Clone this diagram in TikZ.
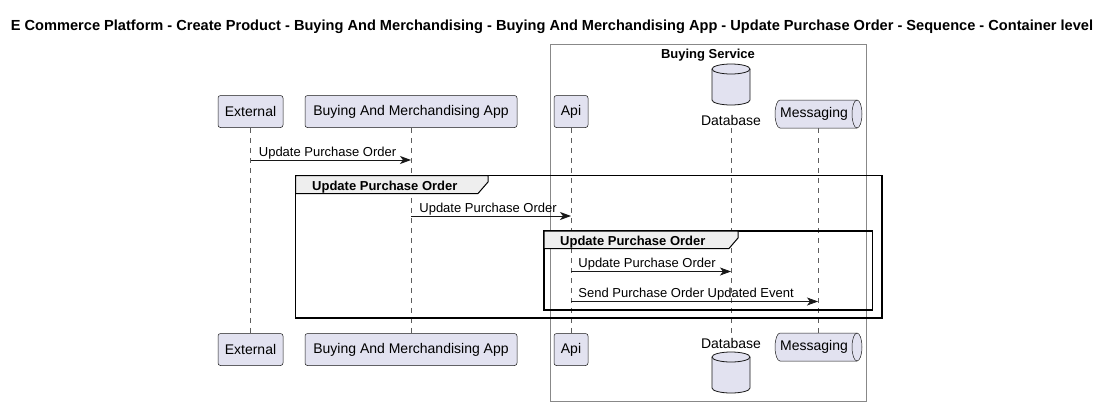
\documentclass[tikz,border=0pt]{standalone}
\usepackage{fontspec}
\setmainfont{Liberation Sans}
\usetikzlibrary{arrows.meta}
\definecolor{pfill}{HTML}{E2E2F0}
\definecolor{pline}{HTML}{181818}
\definecolor{gfill}{HTML}{EEEEEE}
\definecolor{boxline}{HTML}{888888}
\begin{document}
\begin{tikzpicture}[x=1pt,y=-1pt,
  part/.style={draw=pline, fill=pfill, rounded corners=2.5pt, line width=0.5pt,
    minimum height=32pt, inner xsep=0pt, inner ysep=0pt, font=\fontsize{14}{16}\selectfont},
  plabel/.style={inner sep=0pt, font=\fontsize{14}{16}\selectfont},
  life/.style={draw=pline!70, line width=0.5pt, dash pattern=on 5pt off 5pt},
  msgarrow/.style={draw=pline, line width=0.8pt, -{Stealth[length=11pt,width=8pt,inset=3pt]}},
  lbl/.style={inner sep=0pt, anchor=base west, font=\fontsize{13}{15}\selectfont},
  grp/.style={draw=black, line width=1.5pt},
  tab/.style={draw=black, line width=1pt, fill=gfill},
  glbl/.style={inner sep=0pt, anchor=base west, font=\fontsize{13}{15}\selectfont\bfseries},
  cyl/.style={draw=pline, fill=pfill, line width=0.8pt}
]
\useasboundingbox[fill=white] (0,0) rectangle (1112,413);

% title
\node[inner sep=0pt, anchor=base, font=\fontsize{14.6}{16}\selectfont\bfseries] (title) at (552,30)
  {E Commerce Platform - Create Product - Buying And Merchandising - Buying And Merchandising App - Update Purchase Order - Sequence - Container level};

% Buying Service box
\draw[draw=boxline, line width=0.8pt] (550.5,44) rectangle (866.5,401);
\node[inner sep=0pt, anchor=base, font=\fontsize{13}{15}\selectfont\bfseries] (bs) at (708,58) {Buying Service};

% participants top
\node[part, minimum width=65pt] (ext) at (250.5,111.5) {External};
\node[part, minimum width=212pt] (app) at (411,111.5) {Buying And Merchandising App};
\node[part, minimum width=34pt] (api) at (571,111.5) {Api};
% participants bottom
\node[part, minimum width=65pt] (extb) at (250.5,349.5) {External};
\node[part, minimum width=212pt] (appb) at (411,349.5) {Buying And Merchandising App};
\node[part, minimum width=34pt] (apib) at (571,349.5) {Api};

% Database top
\draw[cyl] (712,69) -- (712,100) arc[start angle=180,end angle=360,x radius=19pt,y radius=5pt]
  -- (750,69) arc[start angle=0,end angle=180,x radius=19pt,y radius=5pt] -- cycle;
\draw[draw=pline, line width=0.8pt] (712,69) arc[start angle=180,end angle=360,x radius=19pt,y radius=5pt];
\node[plabel] (db) at (731,120) {Database};
% Database bottom
\node[plabel] (dbb) at (731,343) {Database};
\draw[cyl] (712,357) -- (712,388) arc[start angle=180,end angle=360,x radius=19pt,y radius=5pt]
  -- (750,357) arc[start angle=0,end angle=180,x radius=19pt,y radius=5pt] -- cycle;
\draw[draw=pline, line width=0.8pt] (712,357) arc[start angle=180,end angle=360,x radius=19pt,y radius=5pt];

% Messaging top
\draw[cyl, line width=0.5pt] (780,100) -- (857,100) arc[start angle=90,end angle=-90,x radius=5pt,y radius=14pt]
  -- (780,128) arc[start angle=270,end angle=90,x radius=5pt,y radius=14pt] -- cycle;
\draw[draw=pline, line width=0.5pt] (857,100) arc[start angle=90,end angle=270,x radius=5pt,y radius=14pt];
\node[plabel] (msg) at (814,114) {Messaging};
\coordinate (msgt) at (818,128);
% Messaging bottom
\draw[cyl, line width=0.5pt] (780,333) -- (857,333) arc[start angle=90,end angle=-90,x radius=5pt,y radius=14pt]
  -- (780,361) arc[start angle=270,end angle=90,x radius=5pt,y radius=14pt] -- cycle;
\draw[draw=pline, line width=0.5pt] (857,333) arc[start angle=90,end angle=270,x radius=5pt,y radius=14pt];
\node[plabel] (msgb) at (814,347) {Messaging};
\coordinate (msgbt) at (818,333);

% lifelines
\draw[life] (ext.south) -- (extb.north);
\draw[life] (app.south) -- (appb.north);
\draw[life] (api.south) -- (apib.north);
\draw[life] (731,128) -- (731,335);
\draw[life] (msgt) -- (msgbt);

% message 1
\coordinate (y1) at (0,160);
\draw[msgarrow] (ext |- y1) -- (app |- y1)
  node[lbl, pos=0, xshift=8pt, yshift=4pt] {Update Purchase Order};

% outer group
\draw[grp] (295.5,175.5) rectangle (882,318);
\draw[tab] (295.5,175.5) -- (488,175.5) -- (488,182) -- (478,193.5) -- (295.5,193.5) -- cycle;
\node[glbl] (g1) at (312,190) {Update Purchase Order};

% message 2
\coordinate (y2) at (0,216);
\draw[msgarrow] (app |- y2) -- (api |- y2)
  node[lbl, pos=0, xshift=8pt, yshift=4pt] {Update Purchase Order};

% inner group
\draw[grp] (544,231) rectangle (872.5,310);
\draw[tab] (544,231) -- (738,231) -- (738,238) -- (729,248.5) -- (544,248.5) -- cycle;
\node[glbl] (g2) at (560,245.5) {Update Purchase Order};

% message 3
\coordinate (y3) at (0,271.5);
\coordinate (dbx) at (731,0);
\draw[msgarrow] (api |- y3) -- (dbx |- y3)
  node[lbl, pos=0, xshift=7pt, yshift=4pt] {Update Purchase Order};

% message 4
\coordinate (y4) at (0,301.5);
\draw[msgarrow] (api |- y4) -- (msgt |- y4)
  node[lbl, pos=0, xshift=7pt, yshift=4pt] {Send Purchase Order Updated Event};
\end{tikzpicture}
\end{document}
